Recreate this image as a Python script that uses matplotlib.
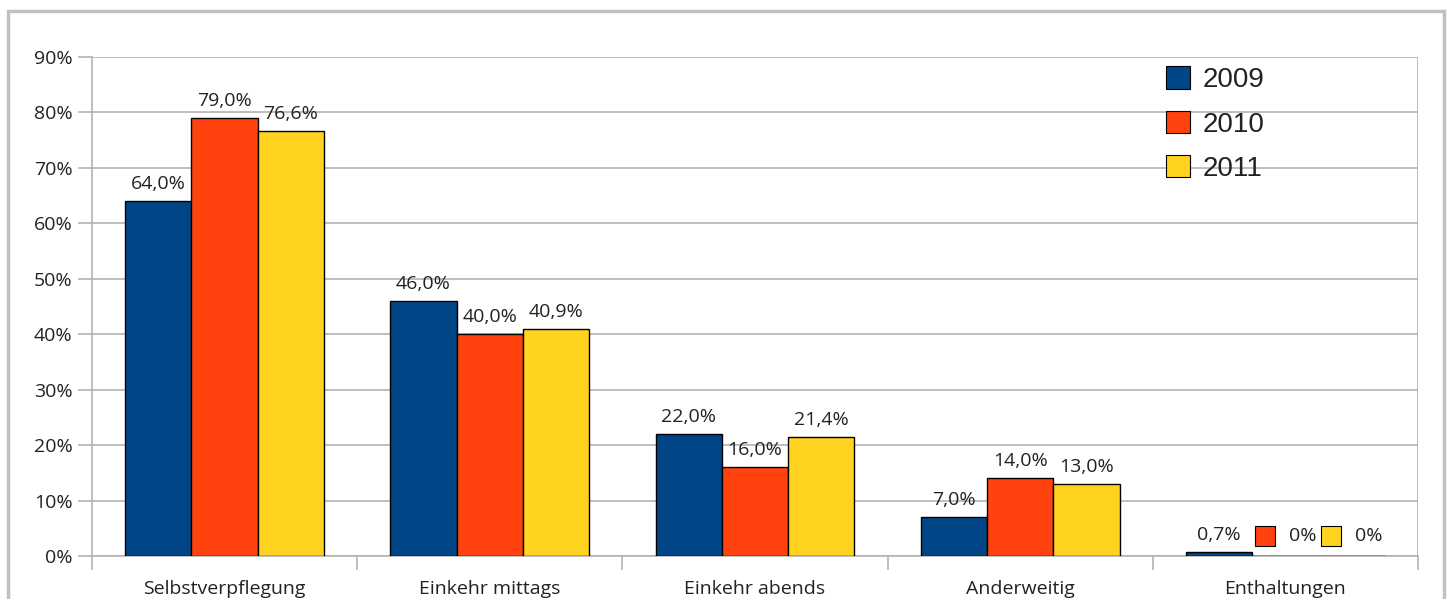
import matplotlib
matplotlib.use("Agg")
import matplotlib.pyplot as plt
import numpy as np
from matplotlib.patches import Patch, Rectangle
from matplotlib.offsetbox import DrawingArea, TextArea, HPacker, AnnotationBbox

categories = ["Selbstverpflegung", "Einkehr mittags", "Einkehr abends", "Anderweitig", "Enthaltungen"]
years = ["2009", "2010", "2011"]
values_2009 = [64.0, 46.0, 22.0, 7.0, 0.7]
values_2010 = [79.0, 40.0, 16.0, 14.0, 0.0]
values_2011 = [76.6, 40.9, 21.4, 13.0, 0.0]
series = [values_2009, values_2010, values_2011]
colors = ["#004586", "#ff420e", "#ffd320"]
yticks = [0, 10, 20, 30, 40, 50, 60, 70, 80, 90]

W, H = 1452, 599
fig = plt.figure(figsize=(W / 100, H / 100), dpi=100)
fig.patch.set_facecolor("white")

# outer frame
fig.add_artist(Rectangle((7.5 / W, -0.05), (1444 - 7.5) / W, (H - 10.5) / H + 0.05,
                         transform=fig.transFigure, fill=False,
                         edgecolor="#c0c0c0", linewidth=2.5))

ax = fig.add_axes([92 / W, (H - 556) / H, (1418 - 92) / W, (556 - 57) / H])

label_font = "Open Sans"
fs = 14
text_color = "#222222"
grid_color = "#b3b3b3"

x = np.arange(len(categories)) + 0.5
width = 0.25
for i, (vals, col) in enumerate(zip(series, colors)):
    pos = x + (i - 1) * width
    ax.bar(pos, vals, width, color=col, edgecolor="black", linewidth=1.0, zorder=3)
    for px, v in zip(pos, vals):
        if v > 0:
            ax.annotate(f"{v:.1f}%".replace(".", ","), (px, v), xytext=(0, 6),
                        textcoords="offset points", ha="center", va="bottom",
                        fontsize=fs, family=label_font, color=text_color)
        else:
            da = DrawingArea(14.4, 14.4, 0, 0)
            da.add_artist(Rectangle((0, 0), 14.4, 14.4, facecolor=col,
                                    edgecolor="black", linewidth=0.8))
            ta = TextArea(f"{v:.0f}%", textprops=dict(fontsize=fs, family=label_font,
                                                      color=text_color))
            box = HPacker(children=[da, ta], align="center", pad=0, sep=10)
            ab = AnnotationBbox(box, (px, v), xybox=(0, 7), xycoords="data",
                                boxcoords="offset points", box_alignment=(0.5, 0),
                                frameon=False, pad=0)
            ax.add_artist(ab)

ax.set_xlim(0, len(categories))
ax.set_ylim(0, 90)
ax.set_yticks(yticks)
ax.set_yticklabels([f"{t}%" for t in yticks], fontsize=fs, family=label_font, color=text_color)
ax.set_xticks(np.arange(len(categories) + 1))
ax.set_xticklabels([])
ax.set_xticks(x, minor=True)
ax.set_xticklabels(categories, minor=True, fontsize=fs, family=label_font, color=text_color)
ax.tick_params(axis="x", which="minor", length=0, pad=17)
ax.tick_params(axis="x", which="major", length=10, color=grid_color, width=1.2)
ax.tick_params(axis="y", length=10, color=grid_color, width=1.2, pad=4)

ax.grid(axis="y", color=grid_color, linewidth=1.2, zorder=0)
ax.set_axisbelow(True)
for s in ["top", "right"]:
    ax.spines[s].set_visible(False)
for s in ["left", "bottom"]:
    ax.spines[s].set_color(grid_color)
    ax.spines[s].set_linewidth(1.2)
ax.plot([1, 1], [0, 90], transform=ax.transAxes, color=grid_color, lw=1.2, zorder=1)

handles = [Patch(facecolor=c, edgecolor="black", linewidth=0.8) for c in colors]
leg = ax.legend(handles, years, loc="upper left", bbox_to_anchor=(1147 / W, (H - 47) / H),
                bbox_transform=fig.transFigure, frameon=False,
                prop=dict(family="Liberation Sans", size=20),
                handlelength=0.86, handleheight=0.86, handletextpad=0.45,
                labelspacing=0.63, borderpad=0.2)
for t in leg.get_texts():
    t.set_color(text_color)

fig.savefig("out.png", dpi=100)
